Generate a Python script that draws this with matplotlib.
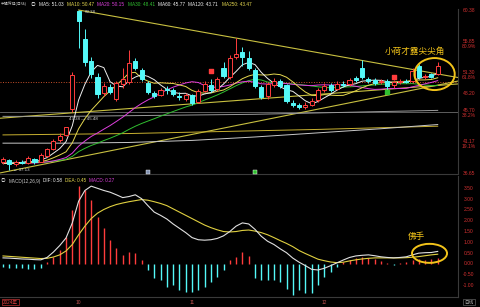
import numpy as np
import pandas as pd
import matplotlib
matplotlib.use("Agg")
from matplotlib import pyplot as plt
from matplotlib.patches import Ellipse
from matplotlib.transforms import blended_transform_factory

plt.rcParams['font.family'] = ['Liberation Sans', 'Noto Sans CJK SC', 'DejaVu Sans']

# daily candles, 2024-09 .. 2024-12
opens = [38.2, 38.5, 37.9, 38.3, 38.1, 38.7, 38.3, 39.2, 40.2, 41.4,
         42.2, 46.0, 60.3, 56.2, 53.0, 50.7, 48.3, 49.2, 47.4, 49.6,
         49.9, 52.9, 51.6, 49.8, 48.3, 48.0, 48.9, 48.7, 47.9, 47.4,
         48.0, 47.0, 48.6, 49.5, 48.9, 52.0, 50.6, 53.5, 54.2, 53.4,
         51.7, 49.2, 47.8, 49.5, 50.0, 49.4, 46.9, 46.6, 46.3, 46.6,
         47.3, 48.8, 49.4, 48.9, 49.6, 49.6, 50.5, 51.9, 50.4, 50.2,
         49.9, 50.1, 49.4, 49.9, 50.1, 50.0, 52.3, 50.6, 51.0, 51.0]
highs = [39.0, 38.7, 38.5, 38.6, 39.2, 38.9, 39.5, 40.3, 41.6, 42.5,
         43.38, 51.4, 60.38, 57.6, 53.6, 51.2, 49.8, 49.6, 50.1, 52.0,
         54.5, 53.4, 51.9, 50.1, 48.6, 49.1, 49.3, 49.0, 48.4, 48.3,
         48.2, 48.9, 50.0, 50.3, 50.6, 52.8, 53.8, 56.3, 55.0, 54.4,
         51.9, 49.5, 49.9, 50.5, 50.4, 49.6, 47.3, 46.9, 47.0, 47.6,
         49.0, 49.7, 49.8, 50.0, 50.0, 50.5, 50.8, 53.1, 50.7, 50.5,
         50.3, 50.3, 50.2, 50.4, 50.4, 52.0, 52.5, 51.1, 51.2, 52.8]
lows = [37.9, 37.13, 37.7, 37.9, 38.0, 38.0, 38.2, 39.0, 40.0, 41.2,
        42.0, 45.48, 54.8, 52.3, 50.5, 47.6, 47.9, 48.1, 47.2, 49.0,
        49.6, 51.6, 50.1, 48.2, 47.6, 47.8, 48.2, 47.8, 47.3, 47.1,
        46.6, 46.8, 48.4, 48.5, 48.6, 50.5, 50.3, 53.2, 52.2, 51.6,
        49.0, 47.4, 47.5, 49.2, 49.0, 46.9, 46.2, 45.9, 46.0, 46.4,
        47.0, 48.5, 48.5, 48.7, 49.2, 49.3, 49.9, 50.3, 49.8, 49.5,
        49.6, 48.4, 49.1, 49.6, 49.7, 49.8, 50.4, 50.3, 50.5, 50.9]
closes = [38.7, 37.9, 38.3, 38.1, 38.8, 38.2, 39.3, 40.1, 41.3, 42.1,
          43.3, 50.9, 58.8, 52.8, 51.0, 48.1, 49.3, 48.5, 49.8, 50.3,
          52.6, 51.9, 50.3, 48.5, 47.9, 48.8, 48.7, 48.1, 47.7, 48.0,
          46.9, 48.6, 49.6, 48.7, 50.3, 50.8, 53.4, 54.0, 53.6, 51.9,
          49.3, 47.7, 49.6, 50.1, 49.3, 47.1, 46.6, 46.2, 46.6, 47.2,
          48.7, 49.3, 48.8, 49.6, 49.5, 50.2, 50.2, 50.6, 50.1, 49.8,
          50.0, 49.3, 49.9, 50.1, 49.9, 51.5, 50.7, 50.8, 50.7, 52.3]
# closes before the visible window (MA lines start near 38 on the left edge)
pre_closes = [38.9, 38.6, 38.8, 38.4, 38.5, 38.7, 38.3, 38.1, 38.4, 38.6,
              38.2, 38.0, 38.3, 38.5, 38.1, 37.9, 38.2, 38.4, 38.0, 37.8,
              38.1, 38.3, 37.9, 37.7, 38.0, 38.2, 37.9, 37.8, 38.0]

# long moving averages
ma_long_idx = [0, 10, 20, 30, 40, 50, 60, 69]
ma60 = [44.9, 44.9, 45.0, 45.1, 45.2, 45.4, 45.6, 45.77]
ma120 = [41.0, 41.0, 41.1, 41.4, 41.9, 42.5, 43.1, 43.71]
ma250 = [42.2, 42.3, 42.4, 42.6, 42.8, 43.0, 43.25, 43.47]

# drawn trend lines (anchor index, price)
top_line = [(12, 60.38), (37, 56.3)]
support_a = [(0, 44.66), (69, 49.4)]
support_b = [(0, 36.75), (69, 49.45)]

dif = [0.28, 0.27, 0.25, 0.23, 0.22, 0.20, 0.19, 0.30, 0.55, 0.85,
       1.20, 1.90, 2.90, 3.40, 3.60, 3.50, 3.40, 3.32, 3.20, 3.07,
       3.12, 3.20, 3.02, 2.70, 2.40, 2.25, 2.08, 1.85, 1.65, 1.45,
       1.22, 1.12, 1.10, 1.12, 1.18, 1.30, 1.50, 1.75, 1.90, 1.85,
       1.60, 1.28, 1.05, 0.90, 0.70, 0.52, 0.27, 0.08, -0.08, -0.25,
       -0.28, -0.20, -0.08, 0.05, 0.18, 0.30, 0.37, 0.40, 0.42, 0.38,
       0.33, 0.30, 0.28, 0.30, 0.33, 0.42, 0.50, 0.52, 0.53, 0.58]
dea = [0.37, 0.35, 0.33, 0.31, 0.29, 0.27, 0.25, 0.26, 0.32, 0.42,
       0.60, 0.90, 1.35, 1.75, 2.10, 2.35, 2.52, 2.65, 2.75, 2.82,
       2.88, 2.93, 2.98, 2.95, 2.88, 2.80, 2.70, 2.55, 2.40, 2.25,
       2.10, 1.95, 1.80, 1.68, 1.58, 1.50, 1.48, 1.50, 1.55, 1.57,
       1.52, 1.45, 1.35, 1.22, 1.08, 0.95, 0.80, 0.62, 0.48, 0.35,
       0.22, 0.15, 0.09, 0.06, 0.08, 0.14, 0.19, 0.23, 0.26, 0.28,
       0.28, 0.28, 0.28, 0.28, 0.29, 0.31, 0.34, 0.38, 0.42, 0.45]
macd_hist = [-0.15, -0.18, -0.20, -0.20, -0.22, -0.22, -0.20, 0.10, 0.30, 0.65,
             1.25, 2.50, 3.60, 3.40, 2.96, 2.18, 1.67, 1.10, 0.74, 0.42,
             0.56, 0.51, 0.19, -0.28, -0.65, -0.74, -1.06, -0.97, -1.20, -1.30,
             -1.30, -1.20, -1.06, -0.83, -0.60, -0.28, 0.19, 0.32, 0.56, 0.37,
             -0.65, -0.74, -0.74, -0.74, -0.83, -1.16, -1.43, -1.20, -1.34, -1.34,
             -0.97, -0.60, -0.37, -0.14, 0.10, 0.19, 0.28, 0.32, 0.28, 0.23,
             0.14, 0.05, -0.03, 0.05, 0.10, 0.19, 0.23, 0.19, 0.23, 0.27]

price_levels = [60.38, 55.85, 51.30, 48.20, 45.70, 41.17, 36.65]
level_pcts = ['', '80.9%', '61.8%', '', '38.2%', '19.1%', '']
macd_ticks = [3.5, 3.0, 2.5, 2.0, 1.5, 1.0, 0.5, 0.0, -0.5, -1.0]
month_idx = [12, 30, 51]
month_labels = ['10', '11', '12']

header_texts = ['中视传媒(日线)', '◎', 'MA5: 51.03', 'MA10: 50.47', 'MA20: 50.15',
                'MA30: 48.41', 'MA60: 45.77', 'MA120: 43.71', 'MA250: 43.47']
header_colors = ['#c8c8c8', '#c8c8c8', '#f0f0f0', '#e6d950', '#e040e0',
                 '#30c030', '#f0f0f0', '#f0f0f0', '#e6d950']
macd_texts = ['◎', 'MACD(12,26,9)', 'DIF: 0.58', 'DEA: 0.45', 'MACD: 0.27']
macd_colors = ['#c8c8c8', '#c8c8c8', '#f0f0f0', '#e6d950', '#e040e0']

RED = '#ff3c3c'
CYAN = '#54f8f8'
GOLD = '#f2c31a'
W, H = 480, 307

fig = plt.figure(figsize=(4.8, 3.07), dpi=100, facecolor='black')
ax1 = fig.add_axes([0, 1 - 174 / H, 458 / W, 165 / H], facecolor='black')
ax2 = fig.add_axes([0, 1 - 297 / H, 458 / W, 121 / H], facecolor='black')

idx = np.arange(len(closes))
o = np.array(opens)
c = np.array(closes)
up = c >= o

# moving averages of closes
allc = pd.Series(pre_closes + closes)
ma = {n: allc.rolling(n, min_periods=1).mean().values[len(pre_closes):] for n in (5, 10, 20, 30)}

# reference lines
ax1.axhline(45.5, color='#6c6c6c', lw=0.6, zorder=1)
ax1.axhline(49.85, color='#c8502a', lw=0.7, ls=(0, (1, 1.6)), zorder=1)
ax1.axline(support_a[0], support_a[1], color='#c8c040', lw=0.8, zorder=2)
ax1.axline(support_b[0], support_b[1], color='#c8c040', lw=0.8, zorder=2)
(x0, y0), (x1, y1) = top_line
slope = (y1 - y0) / (x1 - x0)
ax1.plot([x0, 72.3], [y0, y0 + slope * (72.3 - x0)], color='#c8c040', lw=0.8, zorder=2)

ax1.plot(ma_long_idx, ma250, color='#c8b030', lw=0.7, zorder=2)
ax1.plot(ma_long_idx, ma120, color='#c8c8c8', lw=0.7, zorder=2)
ax1.plot(ma_long_idx, ma60, color='#9a9a9a', lw=0.7, zorder=2)
ax1.plot(idx, ma[30], color='#30c030', lw=0.7, zorder=3)
ax1.plot(idx, ma[20], color='#e040e0', lw=0.7, zorder=3)
ax1.plot(idx, ma[10], color='#e6d950', lw=0.7, zorder=3)
ax1.plot(idx, ma[5], color='#eeeeee', lw=0.7, zorder=3)

# candles
ax1.vlines(idx, lows, highs, colors=np.where(up, RED, CYAN), lw=0.7, zorder=4)
body_h = np.maximum(np.abs(c - o), 0.06)
ax1.bar(idx, body_h, bottom=np.minimum(o, c), width=0.64,
        color=np.where(up, 'black', CYAN), edgecolor=np.where(up, RED, CYAN),
        linewidth=0.7, zorder=5)

# signal markers
ax1.scatter([33, 62], [51.5, 50.6], marker='s', s=7, color=RED, zorder=6)
ax1.scatter([61], [48.4], marker='s', s=6, color='#30c030', zorder=6)
ax1.scatter([23], [36.75], marker='s', s=9, color='#8090b0', edgecolor='white',
            linewidth=0.3, zorder=6, clip_on=False)
ax1.scatter([40], [36.75], marker='s', s=9, color='#30c030', edgecolor='white',
            linewidth=0.3, zorder=6, clip_on=False)

ax1.text(13.0, 60.1, '60.38', color='#d8d8d8', fontsize=3.2, va='center')
ax1.text(1.6, 37.15, '← 37.13', color='#d8d8d8', fontsize=3.2, va='center')
ax1.text(10.4, 44.45, '43.38 — 45.48', color='#d8d8d8', fontsize=3.2, va='center')

ax1.add_patch(Ellipse((68.5, 51.06), 6.4, 4.66, fill=False, edgecolor=GOLD, lw=1.4, zorder=7))
ax1.text(65.4, 54.4, '小荷才露尖尖角', color=GOLD, fontsize=6.2, ha='center', va='center',
         family=['Noto Sans CJK SC'], zorder=7)

ax1.set_xlim(-0.476, 72.22)
ax1.set_ylim(36.51, 60.53)

# MACD panel
hist = np.array(macd_hist)
ax2.vlines(idx, 0, hist, colors=np.where(hist >= 0, RED, CYAN), lw=1.0, zorder=2)
ax2.plot(idx, dea, color='#e0d040', lw=0.8, zorder=3)
ax2.plot(idx, dif, color='#e0e0e0', lw=0.8, zorder=3)
ax2.add_patch(Ellipse((67.7, 0.49), 5.56, 0.88, fill=False, edgecolor=GOLD, lw=1.4, zorder=7))
ax2.text(65.6, 1.25, '佛手', color=GOLD, fontsize=6.2, ha='center', va='center',
         family=['Noto Sans CJK SC'], zorder=7)
ax2.set_xlim(-0.476, 72.22)
ax2.set_ylim(-1.53, 4.07)

for ax in (ax1, ax2):
    ax.set_xticks([])
    ax.set_yticks([])
    for side in ('top', 'left'):
        ax.spines[side].set_visible(False)
    for side in ('right', 'bottom'):
        ax.spines[side].set_color('#3a3a3a')
        ax.spines[side].set_linewidth(0.8)

# right-hand price / MACD scale
tr1 = blended_transform_factory(ax1.transAxes, ax1.transData)
for lv, pct in zip(price_levels, level_pcts):
    ax1.text(1.024, lv, f'{lv:.2f}', transform=tr1, color='#d03030', fontsize=3.6,
             ha='center', va='center', clip_on=False)
    if pct:
        ax1.text(1.024, lv - 0.72, pct, transform=tr1, color='#d03030', fontsize=3.6,
                 ha='center', va='center', clip_on=False)
tr2 = blended_transform_factory(ax2.transAxes, ax2.transData)
for t in macd_ticks:
    ax2.text(1.024, t, f'{t:.2f}', transform=tr2, color='#d03030', fontsize=3.6,
             ha='center', va='center', clip_on=False)


def put_row(texts, colors, x_start, y_px, sizes, gap=3.0):
    """lay out coloured header pieces one after another"""
    renderer = fig.canvas.get_renderer()
    x = x_start
    for txt, col, fs in zip(texts, colors, sizes):
        t = fig.text(x / W, 1 - y_px / H, txt, color=col, fontsize=fs, ha='left', va='center')
        x += t.get_window_extent(renderer).width + gap


put_row(header_texts, header_colors, 1, 4, [2.8] + [3.4] * 8, gap=3.4)
put_row(macd_texts, macd_colors, 1, 181, [3.3] * 5, gap=2.6)

# date axis
tr_date = blended_transform_factory(ax2.transData, fig.transFigure)
fig.text(3 / W, 1 - 302 / H, '2024年', color='#e04040', fontsize=3.3, ha='left', va='center',
         bbox=dict(boxstyle='square,pad=0.15', fc='none', ec='#c03030', lw=0.5))
for mi, ml in zip(month_idx, month_labels):
    ax2.text(mi, 1 - 302 / H, ml, transform=tr_date, color='#c05050', fontsize=3.5,
             ha='center', va='center', clip_on=False)
fig.text(469 / W, 1 - 302 / H, '日线', color='#b0b0b0', fontsize=3.3, ha='center', va='center',
         bbox=dict(boxstyle='square,pad=0.2', fc='none', ec='#606060', lw=0.5))

fig.savefig('out.png', dpi=100, facecolor='black')
plt.close(fig)
